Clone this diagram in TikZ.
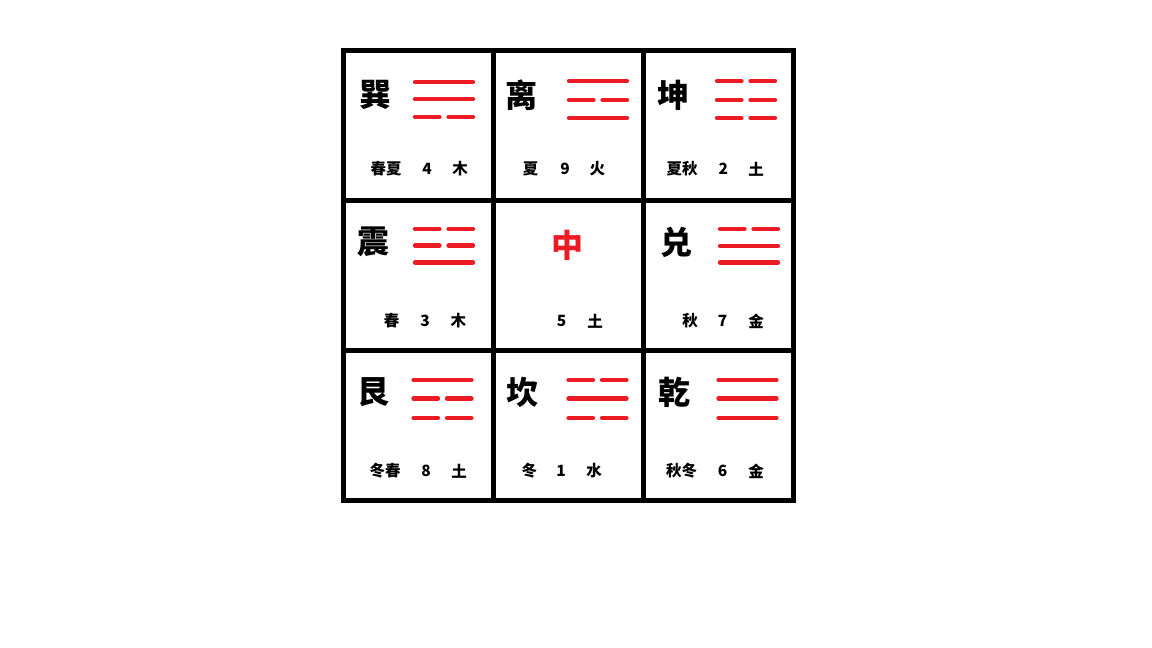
\documentclass[tikz,border=0pt]{standalone}
\usepackage{fontspec}
\newfontfamily\cjk{Noto Sans CJK SC}
\definecolor{gred}{HTML}{ED1C24}
\newcommand\yaoS[2]{\draw[yao] (#1+2,#2) -- (#1+60,#2);}
\newcommand\yaoB[2]{\draw[yao] (#1+2,#2) -- (#1+26.5,#2); \draw[yao] (#1+35.5,#2) -- (#1+60,#2);}
\begin{document}
\begin{tikzpicture}[x=1pt,y=-1pt,
  gridline/.style={line width=5pt,black,line cap=rect},
  yao/.style={line width=4.3pt,gred,line cap=round},
  big/.style={inner sep=0pt,font=\cjk\bfseries\fontsize{32}{32}\selectfont},
  small/.style={inner sep=0pt,font=\cjk\bfseries\fontsize{15.5}{16}\selectfont}]
\useasboundingbox[fill=white] (0,0) rectangle (1152,648);
% grid
\foreach \v in {343.5,493.5,643.5,793.5} {\draw[gridline] (\v,50) -- (\v,500);}
\foreach \h in {50,200,350,500} {\draw[gridline] (343.5,\h) -- (793.5,\h);}
% row 1
\node[big] (xun) at (375.5,95) {巽};
\yaoS{413}{82}\yaoS{413}{99}\yaoB{413}{117}
\node[small] (xun1) at (386,169) {春夏};
\node[small] (xun2) at (427,169) {4};
\node[small] (xun3) at (460,169) {木};
\node[big] (li) at (521.7,95) {离};
\yaoS{567}{81}\yaoB{567}{100}\yaoS{567}{118}
\node[small] (li1) at (530.7,169) {夏};
\node[small] (li2) at (565,169) {9};
\node[small] (li3) at (597.3,169) {火};
\node[big] (kun) at (673,95) {坤};
\yaoB{715}{81}\yaoB{715}{100}\yaoB{715}{118}
\node[small] (kun1) at (682,169) {夏秋};
\node[small] (kun2) at (723.3,169) {2};
\node[small] (kun3) at (756,169) {土};
% row 2
\node[big] (zhen) at (373.5,242) {震};
\yaoB{413}{229}\yaoB{413}{245.5}\yaoS{413}{262.5}
\node[small] (zhen1) at (391.7,321) {春};
\node[small] (zhen2) at (425,321) {3};
\node[small] (zhen3) at (458.3,321) {木};
\node[big,text=gred] (zhong) at (567.7,245) {中};
\node[small] (zhong2) at (561.7,321) {5};
\node[small] (zhong3) at (595,321) {土};
\node[big] (dui) at (676,242) {兑};
\yaoB{718}{229}\yaoS{718}{246}\yaoS{718}{262.5}
\node[small] (dui1) at (690,321) {秋};
\node[small] (dui2) at (722.7,321) {7};
\node[small] (dui3) at (756,321) {金};
% row 3
\node[big] (gen) at (373.3,392) {艮};
\yaoS{411.5}{380}\yaoB{411.5}{398.5}\yaoB{411.5}{418}
\node[small] (gen1) at (385,471) {冬春};
\node[small] (gen2) at (426,471) {8};
\node[small] (gen3) at (459,471) {土};
\node[big] (kan) at (522.3,392) {坎};
\yaoB{566.5}{380}\yaoS{566.5}{398.5}\yaoB{566.5}{418}
\node[small] (kan1) at (529.3,471) {冬};
\node[small] (kan2) at (561,471) {1};
\node[small] (kan3) at (594,471) {水};
\node[big] (qian) at (674.3,392) {乾};
\yaoS{716.5}{380}\yaoS{716.5}{398.5}\yaoS{716.5}{418}
\node[small] (qian1) at (681.7,471) {秋冬};
\node[small] (qian2) at (722.7,471) {6};
\node[small] (qian3) at (756,471) {金};
\end{tikzpicture}
\end{document}
